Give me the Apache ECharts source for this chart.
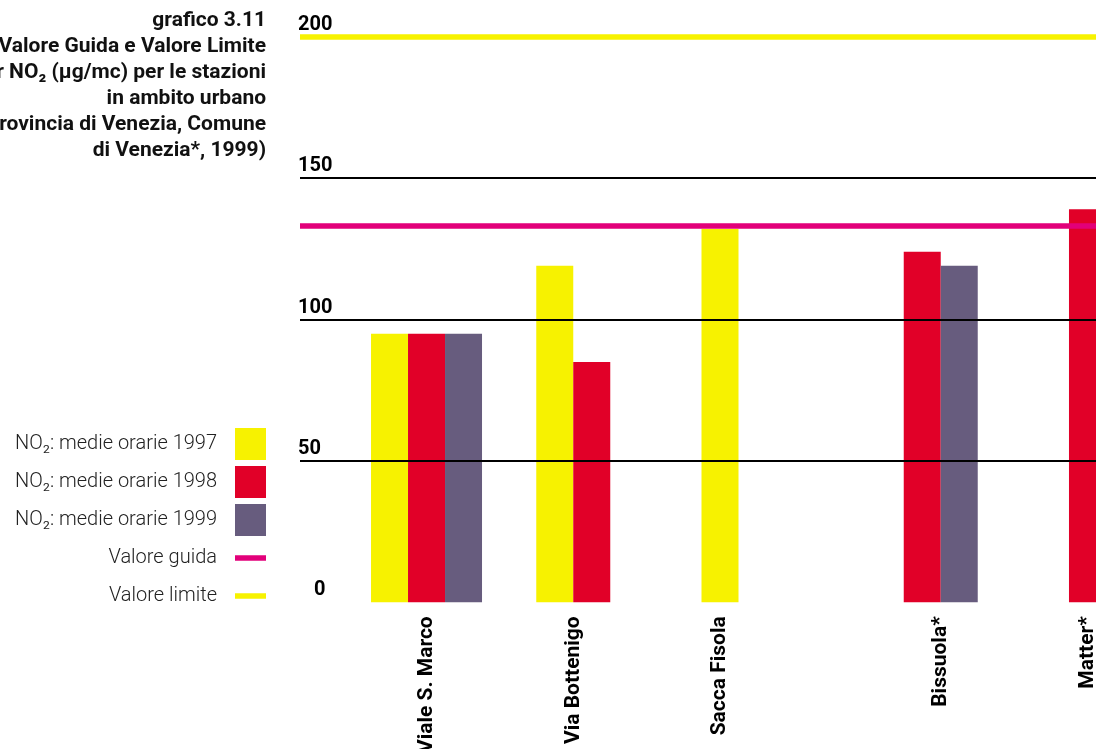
<!DOCTYPE html>
<html>
<head>
<meta charset="utf-8">
<script src="https://cdn.jsdelivr.net/npm/echarts@6/dist/echarts.min.js"></script>
<style>
  html, body { margin: 0; padding: 0; background: #ffffff; }
  #chart { width: 1096px; height: 749px; }
</style>
</head>
<body>
<div id="chart"></div>
<script>
// ---- data ----
const stations = ['Viale S. Marco', 'Via Bottenigo', 'Sacca Fisola', 'Bissuola*', 'Matter*'];
const no2_1997 = [95, 119, 132, null, null];
const no2_1998 = [95, 85, null, 124, 139];
const no2_1999 = [95, null, null, 119, null];
const valoreGuida = 133;
const valoreLimite = 200;
const yTicks = [0, 50, 100, 150, 200];
const seriesNames = ['NO₂: medie orarie 1997', 'NO₂: medie orarie 1998', 'NO₂: medie orarie 1999', 'Valore guida', 'Valore limite'];
const titleLines = [
  'grafico 3.11',
  'Valore Guida e Valore Limite',
  'per NO₂ (µg/mc) per le stazioni',
  'in ambito urbano',
  '(Provincia di Venezia, Comune',
  'di Venezia*, 1999)'
];

// ---- styling ----
const FONT = 'Roboto, "Noto Sans", sans-serif';
const C97 = '#F7F200', C98 = '#E10028', C99 = '#675C7E', CGUIDA = '#E2007A', CLIM = '#F7F200';
const BAR_W = 37;
const TOP = 36.7, BOTTOM = 749 - 602.3;
const XLABEL = { fontFamily: FONT, fontSize: 21, fontWeight: 'bold', color: '#000' };

// label of each station centred on the bars it actually has
const yearSets = [no2_1997, no2_1998, no2_1999];
const labelRich = {};
stations.forEach((s, i) => {
  const present = [];
  yearSets.forEach((arr, k) => { if (arr[i] !== null && arr[i] !== undefined) present.push(k); });
  const mean = present.reduce((a, b) => a + b, 0) / present.length;
  const d = (mean - 1) * BAR_W; // screen shift (right positive)
  labelRich['s' + i] = Object.assign({}, XLABEL, {
    padding: d >= 0 ? [2 * d, 0, 0, 0] : [0, 0, -2 * d, 0]
  });
});

const chart = echarts.init(document.getElementById('chart'), null, { renderer: 'canvas' });

const option = {
  backgroundColor: '#ffffff',
  animation: false,
  title: {
    text: titleLines.join('\n'),
    left: 266,
    top: 8,
    textAlign: 'right',
    padding: 0,
    textStyle: { fontFamily: FONT, fontSize: 21, fontWeight: 'bold', color: '#111', lineHeight: 26 }
  },
  legend: {
    orient: 'vertical',
    align: 'right',
    right: 1096 - 266,
    top: 428,
    padding: 0,
    itemWidth: 31,
    itemHeight: 32,
    itemGap: 6,
    selectedMode: false,
    data: [
      { name: seriesNames[0], icon: 'rect' },
      { name: seriesNames[1], icon: 'rect' },
      { name: seriesNames[2], icon: 'rect' },
      { name: seriesNames[3], icon: 'path://M0,0H31V5.5H0Z' },
      { name: seriesNames[4], icon: 'path://M0,0H31V5.5H0Z' }
    ],
    textStyle: { fontFamily: FONT, fontSize: 20, fontWeight: 300, color: '#222', lineHeight: 32, padding: [0, 13, 0, 0] }
  },
  grid: [
    { left: 300, right: 0, top: TOP, bottom: BOTTOM, outerBoundsMode: 'none', containLabel: false },
    { left: 343.9, width: 826.2, top: TOP, bottom: BOTTOM, outerBoundsMode: 'none', containLabel: false }
  ],
  xAxis: [
    { type: 'value', gridIndex: 0, min: 0, max: 1, show: false },
    {
      type: 'category', gridIndex: 1, data: stations,
      axisLine: { show: false }, axisTick: { show: false }, splitLine: { show: false },
      axisLabel: Object.assign({
        interval: 0, rotate: 90, margin: 14,
        formatter: function (v, i) { return '{s' + i + '|' + v + '}'; },
        rich: labelRich
      }, XLABEL)
    }
  ],
  yAxis: [
    {
      type: 'value', gridIndex: 0, min: yTicks[0], max: yTicks[yTicks.length - 1], interval: yTicks[1] - yTicks[0],
      z: 3,
      axisLine: { show: false }, axisTick: { show: false },
      splitLine: {
        show: true,
        lineStyle: { color: ['rgba(0,0,0,0)', '#000', '#000', '#000', 'rgba(0,0,0,0)'], width: 2 }
      },
      axisLabel: {
        align: 'left', verticalAlign: 'bottom', margin: 2,
        fontFamily: FONT, fontSize: 20, fontWeight: 'bold', color: '#000',
        padding: [0, 0, 2, 0],
        formatter: function (v) { return v === 0 ? '{z|0}' : String(v); },
        rich: { z: { fontFamily: FONT, fontSize: 20, fontWeight: 'bold', color: '#000', padding: [0, 0, 0, 16] } }
      }
    },
    { type: 'value', gridIndex: 1, min: yTicks[0], max: yTicks[yTicks.length - 1], show: false, splitLine: { show: false } }
  ],
  series: [
    { name: seriesNames[0], type: 'bar', xAxisIndex: 1, yAxisIndex: 1, data: no2_1997, barWidth: BAR_W, barGap: '0%', itemStyle: { color: C97 } },
    { name: seriesNames[1], type: 'bar', xAxisIndex: 1, yAxisIndex: 1, data: no2_1998, barWidth: BAR_W, barGap: '0%', itemStyle: { color: C98 } },
    { name: seriesNames[2], type: 'bar', xAxisIndex: 1, yAxisIndex: 1, data: no2_1999, barWidth: BAR_W, barGap: '0%', itemStyle: { color: C99 } },
    {
      name: seriesNames[3], type: 'line', xAxisIndex: 0, yAxisIndex: 0, data: [], z: 5,
      color: CGUIDA, itemStyle: { color: CGUIDA }, lineStyle: { color: CGUIDA },
      markLine: {
        silent: true, symbol: 'none', label: { show: false },
        lineStyle: { color: CGUIDA, width: 5.5, type: 'solid' },
        data: [{ yAxis: valoreGuida }]
      }
    },
    {
      name: seriesNames[4], type: 'line', xAxisIndex: 0, yAxisIndex: 0, data: [], z: 5,
      color: CLIM, itemStyle: { color: CLIM }, lineStyle: { color: CLIM },
      markLine: {
        silent: true, symbol: 'none', label: { show: false },
        lineStyle: { color: CLIM, width: 5.5, type: 'solid' },
        data: [{ yAxis: valoreLimite }]
      }
    }
  ]
};

chart.setOption(option);
</script>
</body>
</html>
